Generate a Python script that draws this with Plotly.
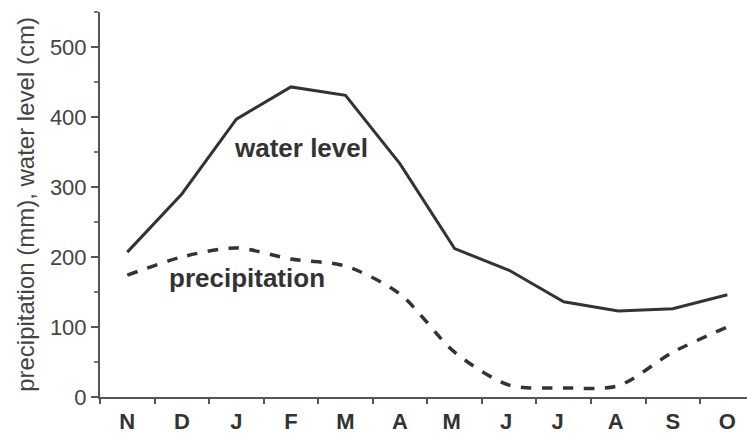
import plotly.graph_objects as go

months = ["N", "D", "J", "F", "M", "A", "M ", "J ", "J  ", "A ", "S", "O"]
water_level = [207, 290, 397, 443, 431, 333, 212, 181, 136, 123, 126, 146]
precipitation = [174, 200, 213, 197, 187, 147, 64, 17, 13, 16, 64, 100]
y_ticks = [0, 100, 200, 300, 400, 500]

FONT = "Liberation Sans, Arial, Helvetica"

fig = go.Figure()
fig.add_trace(go.Scatter(x=months, y=water_level, mode="lines",
                         line=dict(color="#333333", width=3)))
fig.add_trace(go.Scatter(x=months, y=precipitation, mode="lines",
                         line=dict(color="#333333", width=3.5, dash="dash", shape="spline", smoothing=0.8)))

fig.add_annotation(x=3.19, y=356, text="water level", showarrow=False,
                   font=dict(family=FONT, size=26, color="#333333", weight="bold"))
fig.add_annotation(x=2.2, y=170, text="precipitation", showarrow=False,
                   font=dict(family=FONT, size=26, color="#333333", weight="bold"))

fig.update_layout(
    width=747, height=435,
    margin=dict(l=100, r=0, t=12, b=38),
    paper_bgcolor="white", plot_bgcolor="white",
    showlegend=False,
    xaxis=dict(type="category", range=[-0.5, 11.36], tickson="boundaries",
               showline=True, linecolor="#555555", linewidth=2,
               ticks="outside", ticklen=5, tickcolor="#555555", tickwidth=2,
               showgrid=False, zeroline=False, ticklabelstandoff=4,
               tickfont=dict(family=FONT, size=22, color="#333333", weight="bold")),
    yaxis=dict(range=[0, 550], tickvals=y_ticks, showline=True, linecolor="#555555", linewidth=2,
               ticks="outside", ticklen=7, tickcolor="#555555", tickwidth=2,
               minor=dict(dtick=50, ticks="outside", ticklen=4, tickcolor="#777777", tickwidth=1.5),
               showgrid=False, zeroline=False,
               tickfont=dict(family=FONT, size=22, color="#444444"),
               title=dict(text="precipitation (mm), water level (cm)", standoff=8,
                          font=dict(family=FONT, size=24, color="#444444"))),
)

fig.write_html("out.html")
